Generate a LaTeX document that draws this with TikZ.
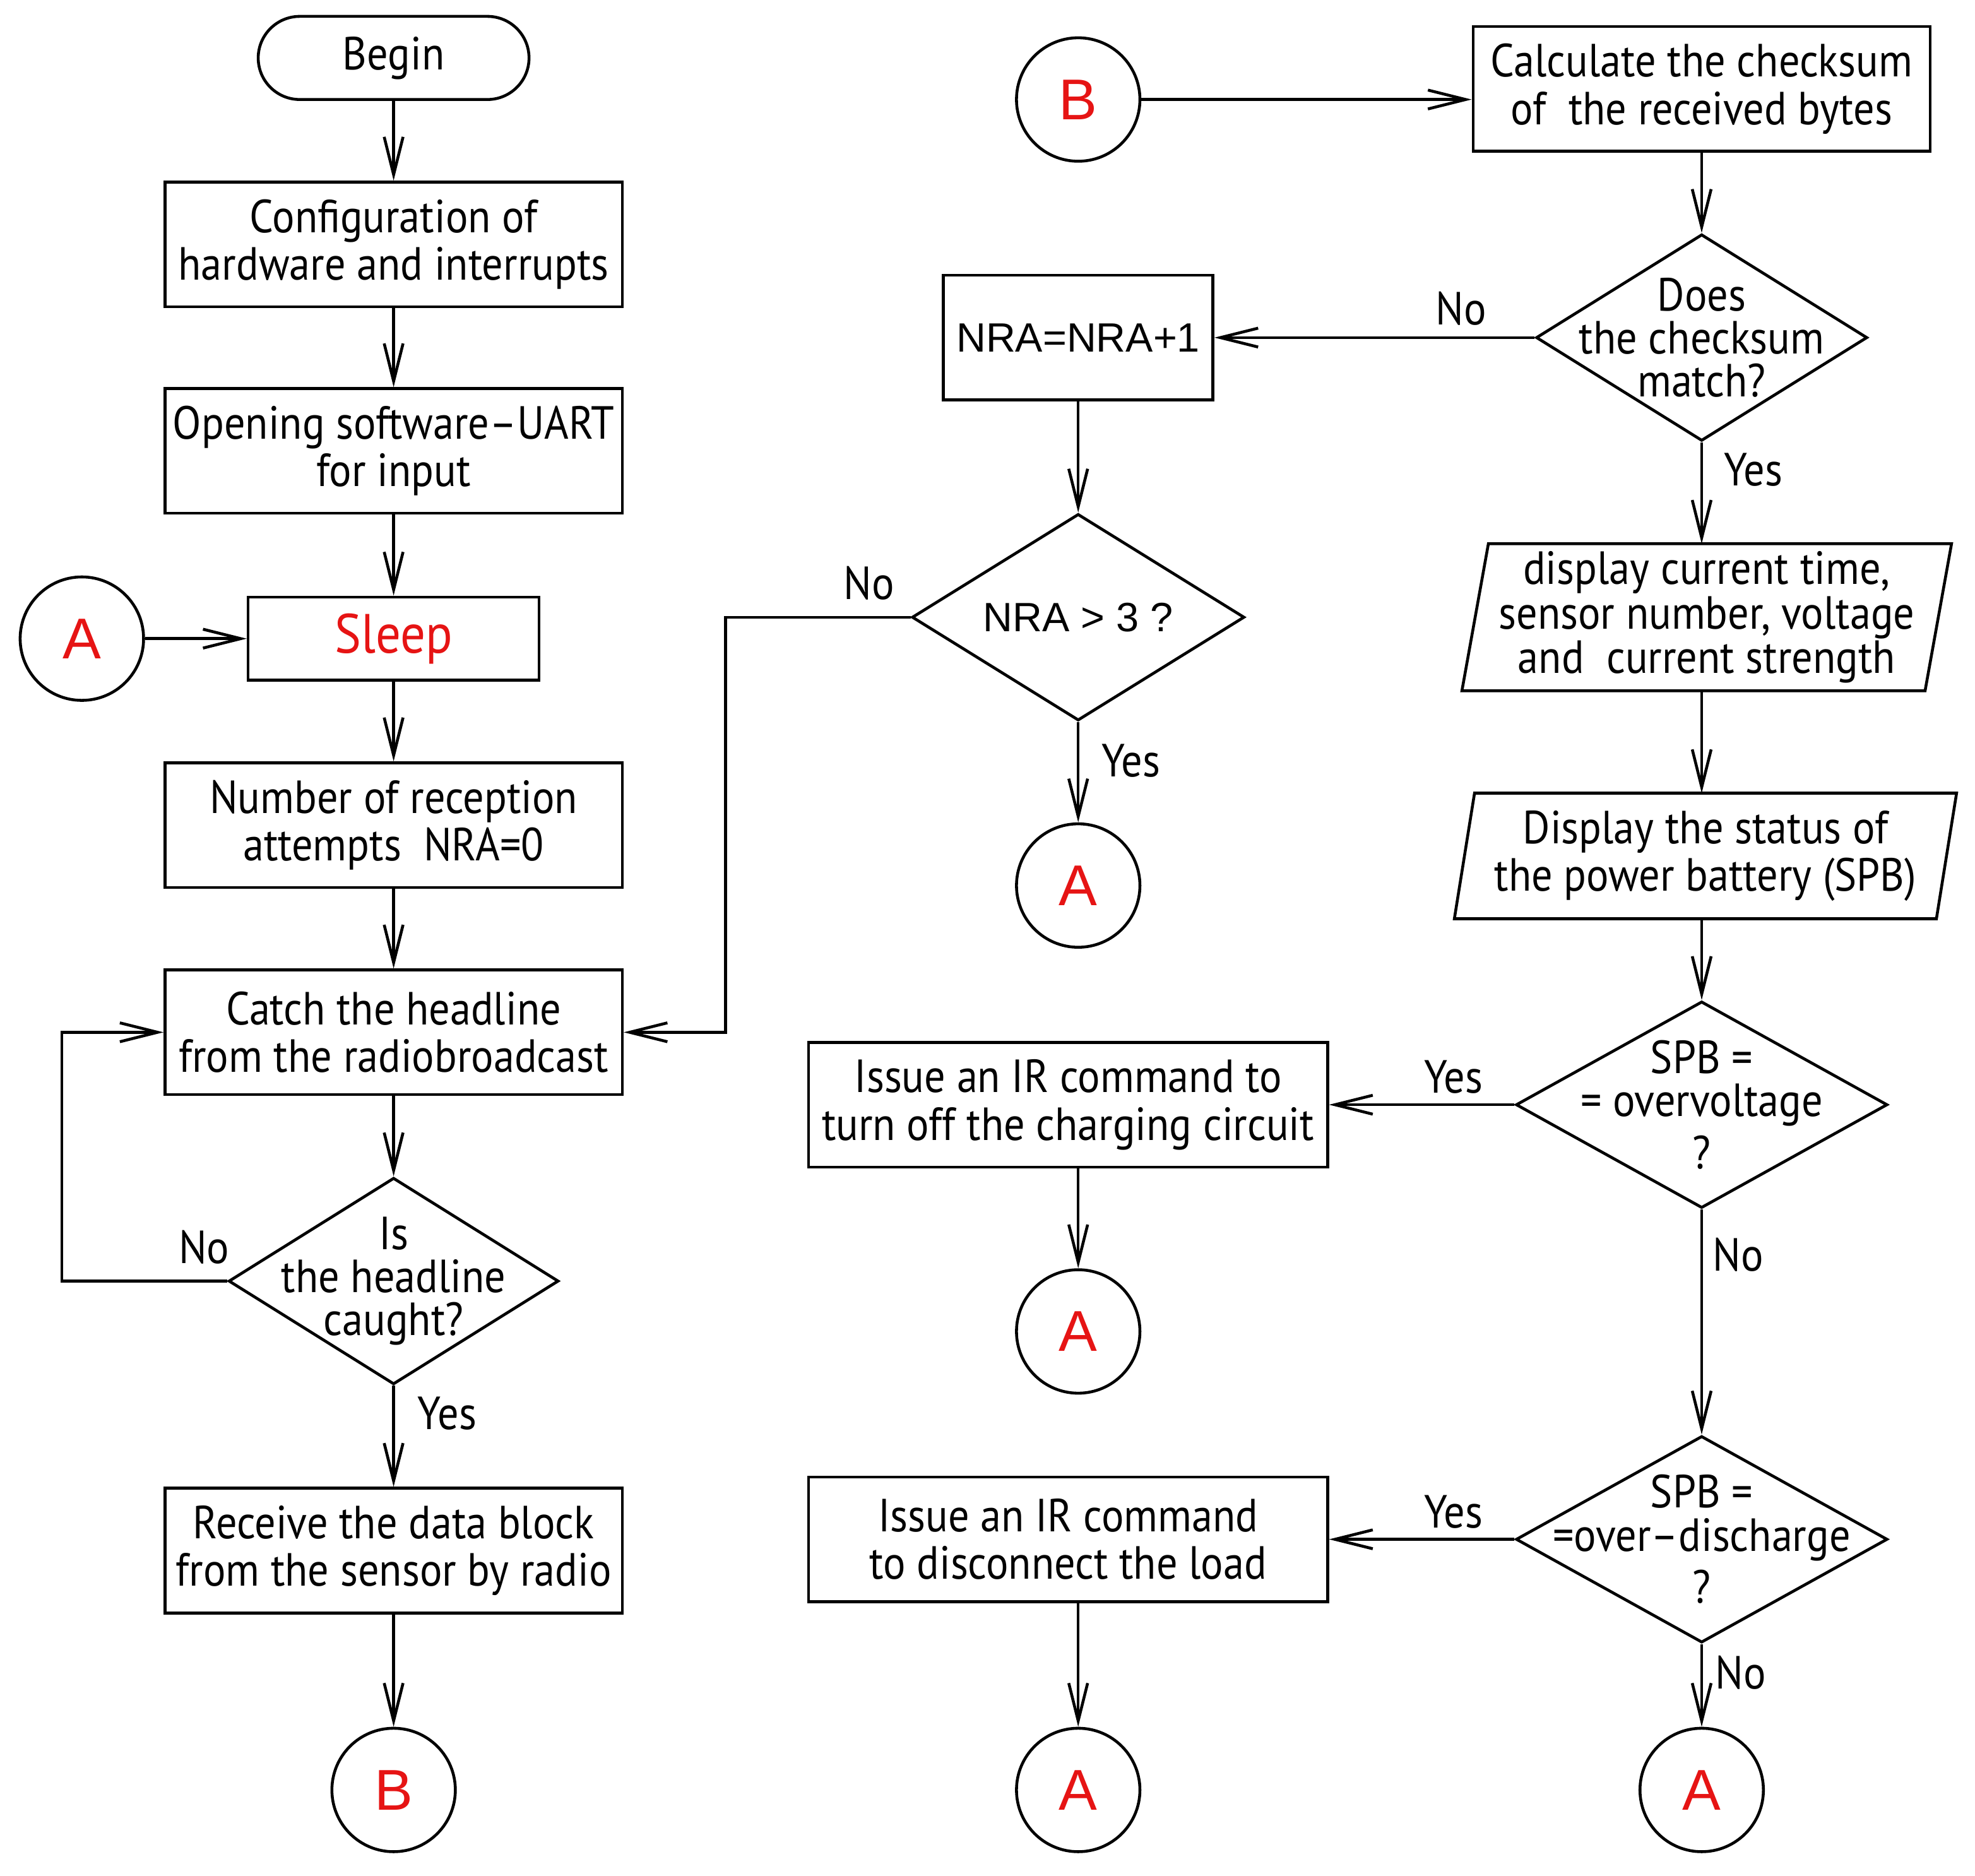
\documentclass[tikz,border=0pt]{standalone}
\usepackage{fontspec}
\setmainfont{PT Sans}[FakeStretch=0.9]
\newfontfamily\arialfont{Liberation Sans}
\usepackage{tikz}
\usetikzlibrary{shapes.geometric,arrows.meta,positioning}
\definecolor{flowred}{RGB}{230,20,20}
\tikzset{
	every node/.style={font=\fontsize{21}{21.5}\selectfont},
	flow/.style={line width=1.3pt,-{Straight Barb[length=6mm,width=3mm]}},
	stepbox/.style={draw,line width=1.3pt,minimum width=#1,minimum height=1.98cm,align=center,inner sep=2pt},
	stepbox/.default=7.26cm,
	startbox/.style={draw,line width=1.3pt,rounded corners=0.66cm,minimum width=4.3cm,minimum height=1.32cm},
	decision/.style={draw,line width=1.3pt,diamond,minimum width=#1,minimum height=3.28cm,inner sep=0pt},
	decision/.default=5.26cm,
	io/.style={minimum width=#1,align=center,inner sep=0pt},
	intext/.style={align=center,inner sep=0pt,font=\fontsize{21}{19.5}\selectfont},
	connector/.style={draw,circle,line width=1.3pt,minimum size=1.96cm,inner sep=0pt,
		text=flowred,font=\arialfont\fontsize{26}{26}\selectfont},
	lbl/.style={inner sep=1pt}
}
\begin{document}
\begin{tikzpicture}
		\useasboundingbox (0,0) rectangle (31.36,-29.786);
		%Left column
		\node[startbox] (begin) at (6.25,-0.92) {Begin};
		\node[stepbox] (config) at (6.25,-3.88) {Configuration of\\hardware and interrupts};
		\node[stepbox] (uart) at (6.25,-7.16) {Opening software--UART\\for input};
		\node[stepbox=4.62cm,minimum height=1.32cm,text=flowred,font=\fontsize{25}{25}\selectfont] (sleep) at (6.25,-10.14) {Sleep};
		\node[connector] (A0) at (1.30,-10.14) {A};
		\node[stepbox] (nra0) at (6.25,-13.10) {Number of reception\\attempts\ \ NRA=0};
		\node[stepbox] (catch) at (6.25,-16.39) {Catch the headline\\from the radiobroadcast};
		\node[decision=5.24cm,label={[intext]center:{Is\\the headline\\caught?}}] (caught) at (6.25,-20.34) {};
		\node[stepbox] (receive) at (6.25,-24.62) {Receive the data block\\from the sensor by radio};
		\node[connector] (B0) at (6.25,-28.42) {B};
		\coordinate (loop) at (0.98,-16.39);
		%Middle column
		\node[connector] (B1) at (17.12,-1.58) {B};
		\node[stepbox=4.28cm,font=\arialfont\fontsize{18.5}{18.5}\selectfont] (inc) at (17.12,-5.36) {NRA=NRA+1};
		\node[decision=5.28cm,label={[intext,font=\arialfont\fontsize{18.5}{18.5}\selectfont]center:{NRA\ >\ 3\ ?}}] (gt3) at (17.12,-9.80) {};
		\node[connector] (A1) at (17.12,-14.06) {A};
		\coordinate (back) at (11.52,-9.80);
		\node[stepbox=8.24cm] (irOff) at (16.96,-17.54) {Issue an IR command to\\turn off the charging circuit};
		\node[connector] (A2) at (17.12,-21.14) {A};
		\node[stepbox=8.24cm] (irLoad) at (16.96,-24.44) {Issue an IR command\\to disconnect the load};
		\node[connector] (A3) at (17.12,-28.42) {A};
		%Right column
		\node[stepbox] (calc) at (27.02,-1.41) {Calculate the checksum\\of\ \ the received bytes};
		\node[decision,label={[intext]center:{Does\\the checksum\\match?}}] (match) at (27.02,-5.36) {};
		\node[io=7.76cm,minimum height=2.32cm,font=\fontsize{21}{20}\selectfont] (disp1) at (27.10,-9.80) {display current time,\\sensor number, voltage\\and\ \ current strength};
		\draw[line width=1.3pt] ([xshift=4.2mm]disp1.north west) -- (disp1.north east) -- ([xshift=-4.2mm]disp1.south east) -- (disp1.south west) -- cycle;
		\node[io=7.96cm,minimum height=1.98cm] (disp2) at (27.08,-13.59) {Display the status of\\the power battery (SPB)};
		\draw[line width=1.3pt] ([xshift=3.2mm]disp2.north west) -- (disp2.north east) -- ([xshift=-3.2mm]disp2.south east) -- (disp2.south west) -- cycle;
		\node[decision=5.9cm,label={[intext]center:{SPB =\\= overvoltage\\[4pt]?}}] (over) at (27.02,-17.54) {};
		\node[decision=5.9cm,label={[intext]center:{SPB =\\=over--discharge\\[4pt]?}}] (disch) at (27.02,-24.44) {};
		\node[connector] (A4) at (27.02,-28.42) {A};
		%Branch labels
		\node[lbl] (noCaught) at (3.24,-19.80) {No};
		\node[lbl] (yesCaught) at (7.10,-22.44) {Yes};
		\node[lbl] (noGt3) at (13.80,-9.26) {No};
		\node[lbl] (yesGt3) at (17.96,-12.08) {Yes};
		\node[lbl] (noMatch) at (23.20,-4.90) {No};
		\node[lbl] (yesMatch) at (27.84,-7.46) {Yes};
		\node[lbl] (yesOver) at (23.08,-17.10) {Yes};
		\node[lbl] (noOver) at (27.60,-19.92) {No};
		\node[lbl] (yesDisch) at (23.08,-24.00) {Yes};
		\node[lbl] (noDisch) at (27.64,-26.56) {No};
		%Connectors
		\draw[flow] (begin) -- (config);
		\draw[flow] (config) -- (uart);
		\draw[flow] (uart) -- (sleep);
		\draw[flow] (A0) -- (sleep);
		\draw[flow] (sleep) -- (nra0);
		\draw[flow] (nra0) -- (catch);
		\draw[flow] (catch) -- (caught);
		\draw[flow] (caught.west) -| (loop) -- (catch.west);
		\draw[flow] (caught) -- (receive);
		\draw[flow] (receive) -- (B0);
		\draw[flow] (B1) -- (B1 -| calc.west);
		\draw[flow] (calc) -- (match);
		\draw[flow] (match.west) -- (inc.east);
		\draw[flow] (inc) -- (gt3);
		\draw[flow] (gt3) -- (A1);
		\draw[flow] (gt3.west) -- (back) |- (catch.east);
		\draw[flow] (match.south) -- (match.south |- disp1.north);
		\draw[flow] (disp1.south -| match) -- (disp2.north -| match);
		\draw[flow] (disp2.south -| match) -- (over.north);
		\draw[flow] (over.west) -- (irOff.east);
		\draw[flow] (irOff.south -| A2) -- (A2);
		\draw[flow] (over) -- (disch);
		\draw[flow] (disch.west) -- (irLoad.east);
		\draw[flow] (irLoad.south -| A3) -- (A3);
		\draw[flow] (disch) -- (A4);
\end{tikzpicture}
\end{document}
